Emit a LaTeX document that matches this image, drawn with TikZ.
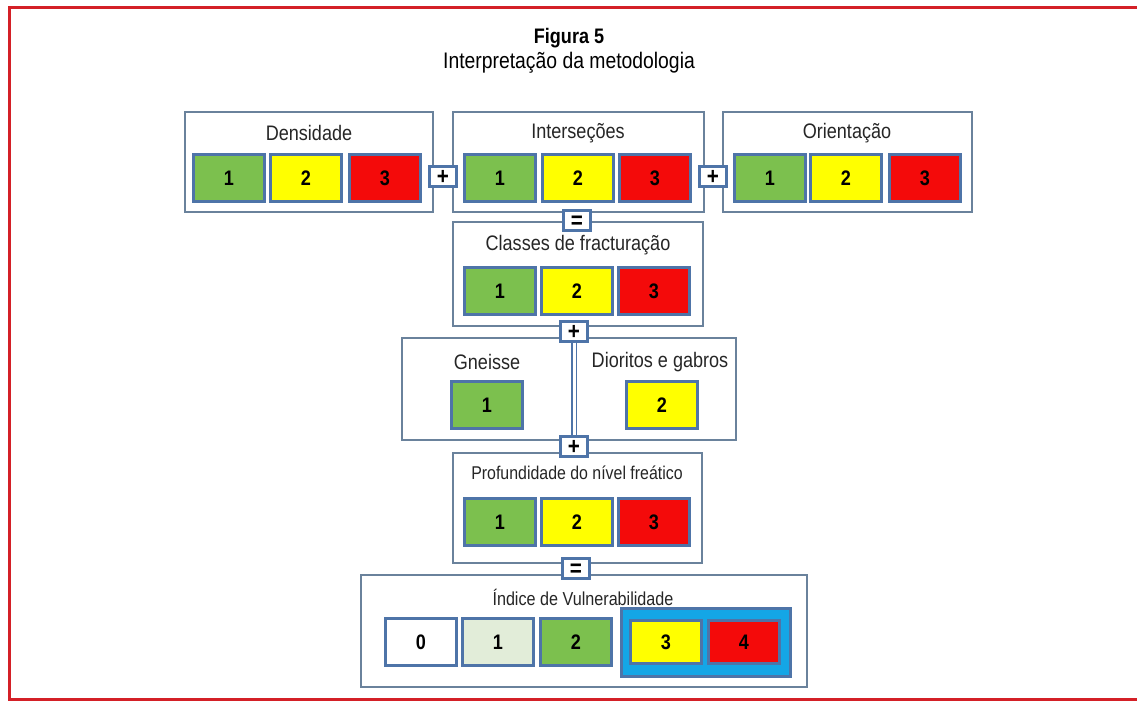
\documentclass[tikz,border=0pt]{standalone}
\usepackage{fontspec}
\setmainfont{Liberation Sans}[FakeStretch=0.86]
\usetikzlibrary{positioning}
\definecolor{cellBorder}{HTML}{4E74A8}
\definecolor{panelLine} {HTML}{6A829C}
\definecolor{frameRed}  {HTML}{D42027}
\definecolor{cGreen}    {HTML}{7CC04E}
\definecolor{cYellow}   {HTML}{FFFF00}
\definecolor{cRed}      {HTML}{F40A0A}
\definecolor{cPale}     {HTML}{E2EDD9}
\definecolor{cCyan}     {HTML}{14A6E6}

\begin{document}
\begin{tikzpicture}[x=1pt, y=-1pt,
    panel/.style={draw=panelLine, line width=1.3pt, fill=white, inner sep=0pt},
    cell/.style={draw=cellBorder, line width=3pt, minimum width=71pt, minimum height=47pt,
                 inner sep=0pt, font=\fontsize{21}{21}\selectfont\bfseries},
    sign/.style={draw=cellBorder, line width=3pt, fill=white, minimum width=27pt,
                 minimum height=20pt, inner sep=0pt, text height=17pt, text depth=0pt,
                 font=\fontsize{24}{24}\selectfont\bfseries},
    heading/.style={font=\fontsize{21}{22}\selectfont, text=black!85}]
  \useasboundingbox (0,0) rectangle (1137,701);
  \draw[draw=frameRed, line width=3pt] (1140,8) -- (9,8) -- (9,699) -- (1140,699);

  % title
  \node[font=\fontsize{21}{22}\selectfont\bfseries] (title) at (569,38) {Figura 5};
  \node[font=\fontsize{22.5}{24}\selectfont] (subtitle) at (569,63) {Interpretação da metodologia};

  % panels
  \node[panel, minimum width=248pt, minimum height=100pt] (dens)   at (309,162)   {};
  \node[panel, minimum width=251pt, minimum height=100pt] (inter)  at (578.5,162) {};
  \node[panel, minimum width=249pt, minimum height=100pt] (orient) at (847.5,162) {};
  \node[panel, minimum width=250pt, minimum height=104pt] (fract)  at (578,274)   {};
  \node[panel, minimum width=334pt, minimum height=102pt] (rock)   at (569,389)   {};
  \node[panel, minimum width=249pt, minimum height=110pt] (prof)   at (577.5,508) {};
  \node[panel, minimum width=446pt, minimum height=112pt] (index)  at (584,631)   {};

  \node[heading] (densT)   at (309,133) {Densidade};
  \node[heading] (interT)  at (578,133) {Interseções};
  \node[heading] (orientT) at (847,133) {Orientação};
  \node[heading] (fractT)  at (578,245) {Classes de fracturação};
  \node[heading] (gneT)    at (487,362) {Gneisse};
  \node[heading] (dioT)    at (660,362) {Dioritos e gabros};
  \node[heading, font=\fontsize{18.5}{20}\selectfont] (profT)  at (577,473) {Profundidade do nível freático};
  \node[heading, font=\fontsize{18.8}{20}\selectfont] (indexT) at (583,597) {Índice de Vulnerabilidade};

  % classes 1-2-3
  \foreach \row/\xa/\xb/\xc/\y in {d/229/306/385/178, i/500/578/655/178, o/770/846/925/178,
                                    f/500/577/654/291, p/500/577/654/522}{
    \foreach \k/\x/\col in {1/\xa/cGreen, 2/\xb/cYellow, 3/\xc/cRed}
      \node[cell, fill=\col] (\row\k) at (\x,\y) {\k};
  }
  \node[cell, fill=cGreen]  (gne1) at (487,405) {1};
  \node[cell, fill=cYellow] (dio2) at (662,405) {2};

  % vulnerability index
  \node[draw=cellBorder, line width=3pt, fill=cCyan, minimum width=169pt,
        minimum height=68pt] (hot) at (706,642) {};
  \node[cell, fill=white]   (v0) at (421,642) {0};
  \node[cell, fill=cPale]   (v1) at (498,642) {1};
  \node[cell, fill=cGreen]  (v2) at (576,642) {2};
  \node[cell, fill=cYellow, minimum height=43pt] (v3) at (666,642) {3};
  \node[cell, fill=cRed,    minimum height=43pt] (v4) at (744,642) {4};

  % operators
  \node[sign] (plus1) at (443,176) {+};
  \node[sign] (plus2) at (713,176) {+};
  \node[sign] (eq1)   at (577,220) {=};
  \node[sign] (plus3) at (574,331) {+};
  \node[sign] (plus4) at (574,446) {+};
  \node[sign] (eq2)   at (576,568) {=};
  \draw[draw=cellBorder, line width=1.2pt, double=white, double distance=3pt]
    (plus3.south) -- (plus4.north);
\end{tikzpicture}
\end{document}
